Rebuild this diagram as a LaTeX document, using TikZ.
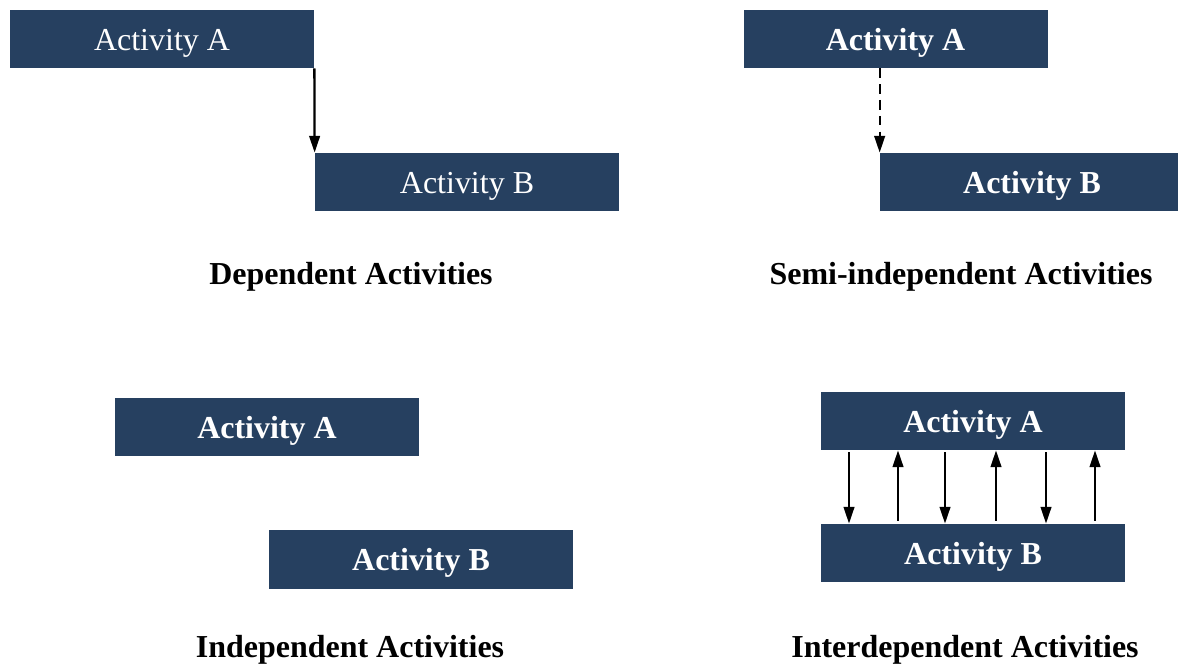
\documentclass[tikz,border=0pt]{standalone}
\usepackage{fontspec}
\setmainfont{Liberation Serif}
\usetikzlibrary{arrows.meta}

\definecolor{actnavy}{RGB}{38,64,96}

\tikzset{
    actbox/.style={fill=actnavy, text=white, minimum width=6.08cm, minimum height=1.16cm, inner sep=0pt, text height=16pt, text depth=3pt, font=\fontsize{18.2}{22}\selectfont},
    actboxbold/.style={actbox, font=\fontsize{18.2}{22}\selectfont\bfseries},
    actlabel/.style={text height=15pt, text depth=3pt, font=\fontsize{18.2}{22}\selectfont\bfseries},
    actarrow/.style={line width=1.3pt, -{Triangle[length=9.5pt,width=6pt]}}
}

\begin{document}
\begin{tikzpicture}

\useasboundingbox (0,0) rectangle (23.56,-13.32);

% Dependent activities (top left)
\node[actbox] (depA) at (3.24,-0.78) {Activity A};
\node[actbox] (depB) at (9.34,-3.64) {Activity B};
\draw[actarrow] (depA.south east) -- (depB.north west); % finish-to-start link
\node[actlabel] (depL) at (7.02,-5.47) {Dependent Activities};

% Semi-independent activities (top right)
\node[actboxbold] (semA) at (17.91,-0.78) {Activity A};
\node[actboxbold] (semB) at (20.64,-3.64) {Activity B};
\coordinate (semTop) at (semB.north west |- semA.south);
\draw[actarrow, dash pattern=on 5.5pt off 3.5pt] (semTop) -- (semB.north west); % loose link
\node[actlabel] (semL) at (19.22,-5.47) {Semi-independent Activities};

% Independent activities (bottom left)
\node[actboxbold] (indA) at (5.34,-8.54) {Activity A};
\node[actboxbold] (indB) at (8.42,-11.19) {Activity B};
\node[actlabel] (indL) at (7.0,-12.93) {Independent Activities};

% Interdependent activities (bottom right)
\node[actboxbold] (intA) at (19.46,-8.42) {Activity A};
\node[actboxbold] (intB) at (19.46,-11.06) {Activity B};
\foreach \x in {16.98,18.9,20.92} {
    \draw[actarrow, shorten <=1.2pt] (\x,0 |- intA.south) -- (\x,0 |- intB.north); % down arrows
}
\foreach \x in {17.96,19.92,21.9} {
    \draw[actarrow, shorten <=1.7pt] (\x,0 |- intB.north) -- (\x,0 |- intA.south); % up arrows
}
\node[actlabel] (intL) at (19.3,-12.93) {Interdependent Activities};

\end{tikzpicture}
\end{document}
